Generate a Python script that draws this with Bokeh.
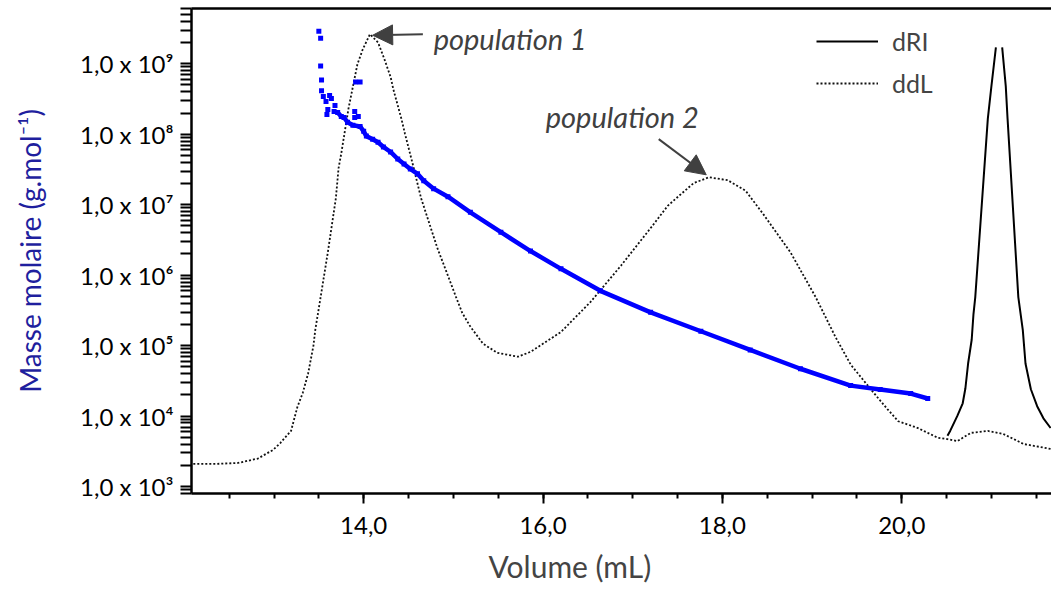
import math
from bokeh.plotting import figure
from bokeh.models import (Range1d, SingleIntervalTicker, FixedTicker, LinearAxis, ColumnDataSource,
                          CustomJSTickFormatter, CustomJSTransform, Legend, LegendItem, Label,
                          Arrow, NormalHead, Title, LinearScale)
from bokeh.transform import transform
from bokeh.embed import file_html
from bokeh.resources import INLINE

# ---------------- data ----------------
# Masse molaire (blue points) : elution volume (mL) and molar mass (g/mol)
mm_scatter_vol = [13.50, 13.52, 13.52, 13.53, 13.53, 13.55, 13.58, 13.62, 13.64, 13.68,
                  13.60, 13.59, 13.67, 13.90, 13.91, 13.96, 13.94, 13.90]
mm_scatter_mass = [2.89e9, 2.30e9, 9.3e8, 5.9e8, 4.15e8, 3.42e8, 2.91e8, 3.53e8, 3.21e8, 2.55e8,
                   2.24e8, 1.91e8, 2.10e8, 2.10e8, 5.5e8, 5.5e8, 1.79e8, 1.73e8]
mm_vol = [13.71, 13.75, 13.78, 13.82, 13.88, 13.96, 14.00, 14.03, 14.10, 14.16, 14.22, 14.30,
          14.38, 14.45, 14.52, 14.60, 14.67, 14.78, 14.94, 15.19, 15.53, 15.86, 16.20, 16.64,
          17.20, 17.76, 18.31, 18.87, 19.43, 19.76, 20.10, 20.29]
mm_mass = [2.04e8, 1.79e8, 1.73e8, 1.48e8, 1.34e8, 1.29e8, 1.10e8, 9.4e7, 8.5e7, 7.7e7, 6.6e7,
           5.6e7, 4.45e7, 3.79e7, 3.22e7, 2.74e7, 2.19e7, 1.69e7, 1.30e7, 7.8e6, 4.07e6, 2.20e6,
           1.23e6, 6.0e5, 2.97e5, 1.60e5, 8.7e4, 4.7e4, 2.71e4, 2.38e4, 2.09e4, 1.78e4]

# ddL (light scattering) detector signal, arbitrary units
ddl_vol = [12.10, 12.35, 12.60, 12.82, 12.99, 13.07, 13.19, 13.26, 13.32, 13.38, 13.44, 13.46,
           13.52, 13.60, 13.69, 13.72, 13.75, 13.83, 13.93, 13.99, 14.07, 14.16, 14.23, 14.30,
           14.33, 14.42, 14.46, 14.55, 14.64, 14.82, 15.03, 15.10, 15.19, 15.33, 15.49, 15.72,
           15.86, 16.20, 16.53, 16.87, 17.22, 17.39, 17.53, 17.68, 17.85, 18.06, 18.26, 18.46,
           18.76, 19.04, 19.26, 19.43, 19.54, 19.69, 19.84, 19.96, 20.18, 20.40, 20.51, 20.62,
           20.77, 20.96, 21.13, 21.36, 21.66]
ddl_sig = [6.1, 6.1, 6.3, 7.2, 9.0, 10.4, 12.9, 17.8, 20.7, 24.7, 30.5, 33.7,
           40.5, 49.7, 60.9, 67.1, 70.1, 79.3, 88.5, 91.6, 94.7, 93.0, 89.6, 85.9,
           83.4, 77.3, 74.2, 67.7, 60.9, 50.7, 40.5, 37.2, 34.4, 30.9, 29.0, 28.2,
           29.2, 33.3, 39.5, 47.0, 55.2, 59.3, 61.6, 64.0, 65.2, 64.6, 62.4, 57.5,
           49.7, 40.5, 32.3, 26.6, 24.1, 20.7, 17.4, 14.9, 13.5, 11.5, 11.2, 10.8,
           12.5, 12.9, 12.3, 10.2, 9.2]

# dRI (refractive index) detector signal, arbitrary units (peak off scale)
dri_vol = [20.51, 20.54, 20.62, 20.68, 20.71, 20.74, 20.78, 20.80, 20.82, 20.96, 21.00, 21.05,
           21.085, 21.12, 21.16, 21.18, 21.30, 21.35, 21.38, 21.44, 21.51, 21.58, 21.66]
dri_sig = [11.9, 12.9, 16.0, 18.6, 21.7, 26.8, 31.7, 37.0, 40.5, 77.3, 84.0, 92.0,
           float("nan"), 92.0, 84.0, 77.3, 40.5, 33.7, 26.8, 21.5, 18.0, 15.5, 13.5]

x_ticks = [14, 16, 18, 20]
x_tick_labels = ["14,0", "16,0", "18,0", "20,0"]
y_ticks = [1e3, 1e4, 1e5, 1e6, 1e7, 1e8, 1e9]
y_tick_labels = ["1,0 x 10\u00b3", "1,0 x 10\u2074", "1,0 x 10\u2075", "1,0 x 10\u2076",
                 "1,0 x 10\u2077", "1,0 x 10\u2078", "1,0 x 10\u2079"]
series_names = ["dRI", "ddL"]
annotations = ["population 1", "population 2"]

FONT = "Lato"
# molar-mass axis works in decades (log10 of g/mol)
D_LO, D_HI = 2.902, 9.784

log10 = CustomJSTransform(func="return Math.log10(x)",
                          v_func="return xs.map((v) => Math.log10(v))")

# ---------------- figure ----------------
p = figure(width=1051, height=592, output_backend="svg", toolbar_location=None, title=None,
           x_range=Range1d(12.08, 21.67), y_range=Range1d(D_LO, D_HI),
           min_border_left=191, min_border_right=0, min_border_top=8, min_border_bottom=94)
p.outline_line_color = None
p.xgrid.visible = False
p.ygrid.visible = False
p.background_fill_color = "white"
p.border_fill_color = "white"

p.extra_y_ranges = {"det": Range1d(0, 100)}
p.extra_y_scales = {"det": LinearScale()}

# x axis
xa = p.xaxis[0]
xa.ticker = SingleIntervalTicker(interval=2, num_minor_ticks=4)
xa.formatter = CustomJSTickFormatter(args=dict(vals=x_ticks, labs=x_tick_labels), code="""
const i = vals.findIndex(v => Math.abs(v - tick) < 1e-6);
return i >= 0 ? labs[i] : "";
""")
xa.axis_line_width = 2.5
xa.axis_line_color = "black"
xa.major_tick_in = 0
xa.major_tick_out = 10
xa.minor_tick_in = 0
xa.minor_tick_out = 5
xa.major_tick_line_width = 2
xa.minor_tick_line_width = 2
xa.major_label_text_font = FONT
xa.major_label_text_font_size = "24px"
xa.major_label_text_color = "black"
xa.major_label_standoff = 13

# top frame line: an axis without visible ticks or labels
top = LinearAxis(ticker=SingleIntervalTicker(interval=2),
                 formatter=CustomJSTickFormatter(code='return ""'),
                 axis_line_width=2.5, axis_line_color="black",
                 major_tick_in=0, major_tick_out=0, minor_tick_in=0, minor_tick_out=0,
                 major_label_standoff=0, major_label_text_font_size="1px")
p.add_layout(top, "above")

# y axis (decades): labelled decade ticks plus 2..9 x 10^n ticks
y_major = [math.log10(v) for v in y_ticks]
y_all = sorted(y_major + [math.log10(k) + e for e in range(2, 10) for k in range(2, 10)
                          if D_LO <= math.log10(k) + e <= D_HI])

ya = p.yaxis[0]
ya.ticker = FixedTicker(ticks=y_all)
ya.formatter = CustomJSTickFormatter(args=dict(vals=y_ticks, labs=y_tick_labels), code="""
const i = vals.findIndex(v => Math.abs(Math.log10(v) - tick) < 1e-6);
return i >= 0 ? labs[i] : "";
""")
ya.axis_line_width = 2.5
ya.axis_line_color = "black"
ya.major_tick_in = 0
ya.major_tick_out = 11
ya.minor_tick_in = 0
ya.minor_tick_out = 0
ya.major_tick_line_width = 2
ya.major_tick_line_color = "black"
ya.major_label_text_font = FONT
ya.major_label_text_font_size = "24px"
ya.major_label_text_color = "black"
ya.major_label_standoff = 7
ya.axis_label = "Masse molaire (g.mol\u207b\u00b9)"
ya.axis_label_text_font = FONT
ya.axis_label_text_font_size = "28px"
ya.axis_label_text_font_style = "normal"
ya.axis_label_text_color = "#1f1f9e"
ya.axis_label_standoff = 30

p.add_layout(Title(text="Volume (mL)", align="left", offset=297, text_font=FONT,
                   text_font_size="30px", text_font_style="normal", standoff=18), "below")

# detector traces
r_dri = p.line(dri_vol, dri_sig, y_range_name="det", line_color="black", line_width=2)
r_ddl = p.line(ddl_vol, ddl_sig, y_range_name="det", line_color="#111111", line_width=1.8,
               line_dash="2 2")

# molar mass points
src_mm = ColumnDataSource(dict(vol=mm_vol, mass=mm_mass))
src_sc = ColumnDataSource(dict(vol=mm_scatter_vol, mass=mm_scatter_mass))
p.line("vol", transform("mass", log10), source=src_mm, line_color="#0000ff", line_width=4.5)
p.scatter("vol", transform("mass", log10), source=src_mm, marker="square", size=5,
          fill_color="#0000ff", line_color=None)
p.scatter("vol", transform("mass", log10), source=src_sc, marker="square", size=5,
          fill_color="#0000ff", line_color=None)

# legend
legend = Legend(items=[LegendItem(label=series_names[0], renderers=[r_dri]),
                       LegendItem(label=series_names[1], renderers=[r_ddl])],
                location=(625, 389), orientation="vertical",
                border_line_color=None, background_fill_alpha=0,
                padding=0, margin=0, spacing=0,
                glyph_width=62, glyph_height=42, label_height=42, label_standoff=14,
                label_text_font=FONT, label_text_font_size="25px")
p.add_layout(legend)

# annotations
ann_col = "#404040"
p.add_layout(Arrow(end=NormalHead(size=20, fill_color=ann_col, line_color=ann_col),
                   x_start=14.66, y_start=9.418, x_end=14.10, y_end=9.404,
                   line_color=ann_col, line_width=2))
p.add_layout(Arrow(end=NormalHead(size=20, fill_color=ann_col, line_color=ann_col),
                   x_start=17.29, y_start=7.93, x_end=17.82, y_end=7.424,
                   line_color=ann_col, line_width=2))
p.add_layout(Label(x=14.78, y=9.362, text=annotations[0], text_font=FONT, text_font_size="29px",
                   text_font_style="italic", text_color=ann_col, text_baseline="middle"))
p.add_layout(Label(x=16.03, y=8.253, text=annotations[1], text_font=FONT, text_font_size="29px",
                   text_font_style="italic", text_color=ann_col, text_baseline="middle"))

open("out.html", "w").write(file_html(p, INLINE))
